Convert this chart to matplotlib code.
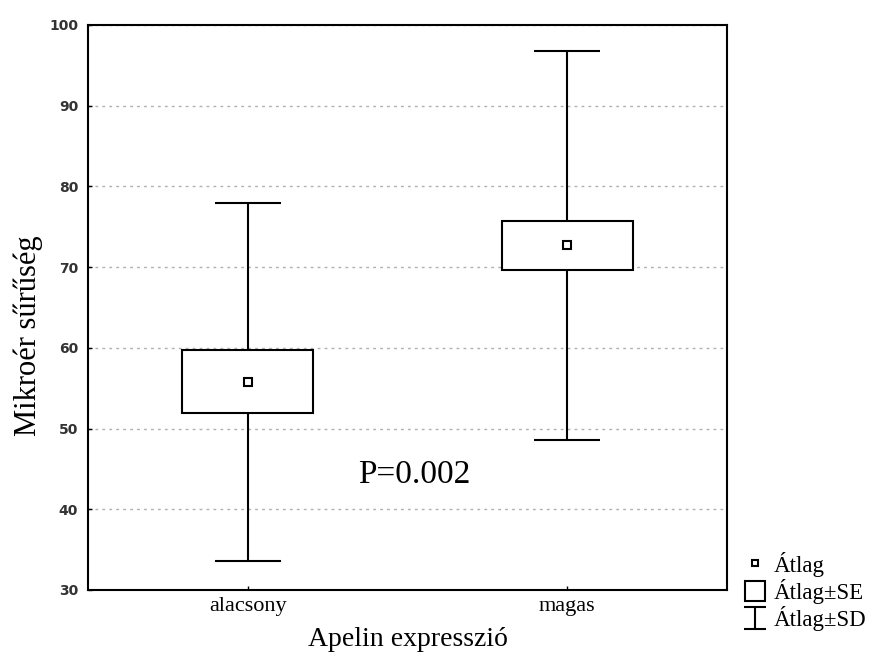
import numpy as np
import matplotlib.pyplot as plt
from matplotlib.lines import Line2D
from matplotlib.path import Path

# group summary
groups = ['alacsony', 'magas']
means = [55.8, 72.7]
se = [3.9, 3.0]
sd = [22.2, 24.1]
p_text = 'P=0.002'

serif = 'Liberation Serif'

fig = plt.figure(figsize=(8.77, 6.57), dpi=100)
ax = fig.add_axes([0.1003, 0.102, 0.7287, 0.860])

x = np.arange(len(groups))
means = np.array(means)
se = np.array(se)
sd = np.array(sd)

ax.errorbar(x, means, yerr=sd, fmt='none', ecolor='black', elinewidth=1.5,
            capsize=23.8, capthick=1.5, zorder=2)
ax.bar(x, 2 * se, bottom=means - se, width=0.41, facecolor='white',
       edgecolor='black', linewidth=1.5, zorder=3)
ax.plot(x, means, 's', mfc='white', mec='black', mew=1.5, ms=6, zorder=4)

ax.set_xlim(-0.5, 1.5)
ax.set_ylim(30, 100)
ax.set_yticks(np.arange(30, 101, 10))
ax.set_xticks(x)
ax.set_xticklabels(groups, fontfamily=serif, fontsize=16)
for lab in ax.get_yticklabels():
    lab.set_fontfamily('DejaVu Sans')
    lab.set_fontweight('bold')
    lab.set_fontsize(10)
    lab.set_color('#333333')
ax.tick_params(direction='in', length=3, width=1, pad=7)
ax.tick_params(axis='x', pad=5)
ax.yaxis.grid(True, linestyle=(0, (2, 3)), color='#b0b0b0', linewidth=1)
ax.set_axisbelow(True)
for s in ax.spines.values():
    s.set_linewidth(1.5)

ax.set_ylabel('Mikroér sűrűség', fontfamily=serif, fontsize=22)
ax.yaxis.set_label_coords(-0.070, 0.45)
ax.set_xlabel('Apelin expresszió', fontfamily=serif, fontsize=20)
ax.xaxis.set_label_coords(0.5, -0.066)

ax.text(0.52, 44.3, p_text, fontfamily=serif, fontsize=24, ha='center', va='center')

# legend with the three symbol types
ibeam = Path([(-1, 1), (1, 1), (0, 1), (0, -1), (-1, -1), (1, -1)],
             [Path.MOVETO, Path.LINETO, Path.MOVETO, Path.LINETO, Path.MOVETO, Path.LINETO])
handles = [
    Line2D([], [], ls='none', marker='s', ms=5, mfc='white', mec='black', mew=1.5),
    Line2D([], [], ls='none', marker='s', ms=15, mfc='white', mec='black', mew=1.5),
    Line2D([], [], ls='none', marker=ibeam, ms=16, mec='black', mew=1.5),
]
labels = ['Átlag', 'Átlag±SE', 'Átlag±SD']
fig.legend(handles, labels, loc='lower left', bbox_to_anchor=(0.83, 0.015),
           frameon=False, prop={'family': serif, 'size': 16.5},
           handlelength=1.0, handletextpad=0.3, labelspacing=0.1, borderpad=0.2)

plt.savefig('out.png', dpi=100)
